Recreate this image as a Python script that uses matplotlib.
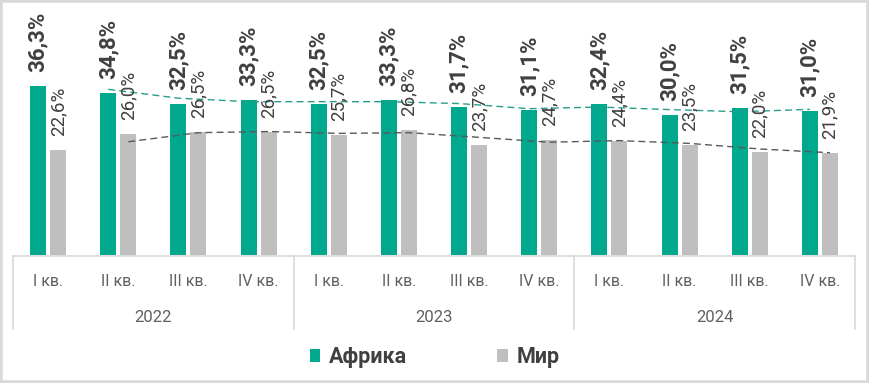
import matplotlib
matplotlib.use("Agg")
import matplotlib.pyplot as plt
import matplotlib.transforms as mtransforms
import pandas as pd

plt.rcParams['font.family'] = ['Roboto', 'DejaVu Sans']

quarters = ['I кв.', 'II кв.', 'III кв.', 'IV кв.'] * 3
years = ['2022', '2023', '2024']
africa = [36.3, 34.8, 32.5, 33.3, 32.5, 33.3, 31.7, 31.1, 32.4, 30.0, 31.5, 31.0]
world = [22.6, 26.0, 26.5, 26.5, 25.7, 26.8, 23.7, 24.7, 24.4, 23.5, 22.0, 21.9]

c_africa = '#00a88e'
c_world = '#bfbfbf'
c_text = '#404040'
c_grid = '#d9d9d9'

W, H = 869, 383
fig = plt.figure(figsize=(W / 100, H / 100), dpi=100)
fig.patch.set_facecolor('white')

# plot area: x 13..855 px, y 10..255 px from top
ax = fig.add_axes([13 / W, (H - 255) / H, 842 / W, 245 / H])
ax.set_xlim(-0.5, 11.5)
ax.set_ylim(0, 245 / 4.66)
ax.axis('off')

n = len(africa)
xs = list(range(n))
off, bw = 0.143, 0.228
xa = [x - off for x in xs]
xw = [x + off for x in xs]
ax.bar(xa, africa, width=bw, color=c_africa, label='Африка', zorder=2)
ax.bar(xw, world, width=bw, color=c_world, label='Мир', zorder=2)

# moving average trend lines (2 periods)
ma_a = pd.Series(africa).rolling(2).mean()
ma_w = pd.Series(world).rolling(2).mean()
ax.plot(xa[1:], ma_a[1:], color='#2a9d8a', lw=1.0, dashes=(5, 3), zorder=3)
ax.plot(xw[1:], ma_w[1:], color='#595959', lw=1.0, dashes=(5, 3), zorder=3)

for x, v in zip(xa, africa):
    ax.annotate(f'{v:.1f}%'.replace('.', ','), xy=(x, v), xytext=(0, 14),
                textcoords='offset pixels', rotation=90, ha='center', va='bottom',
                fontsize=16, fontweight='bold', color=c_text, zorder=4)
for x, v in zip(xw, world):
    ax.annotate(f'{v:.1f}%'.replace('.', ','), xy=(x, v), xytext=(0, 14),
                textcoords='offset pixels', rotation=90, ha='center', va='bottom',
                fontsize=13.5, color=c_text, zorder=4)

# category axis with two levels
tr = mtransforms.blended_transform_factory(ax.transData, fig.transFigure)
fy = lambda px: (H - px) / H
ax.plot([-0.5, 11.5], [fy(256), fy(256)], transform=tr, color=c_grid, lw=1.2, clip_on=False)
for b in [-0.5, 3.5, 7.5, 11.5]:
    ax.plot([b, b], [fy(256), fy(329)], transform=tr, color=c_grid, lw=1.2, clip_on=False)
for x, q in zip(xs, quarters):
    ax.text(x, fy(282), q, transform=tr, ha='center', va='center',
            fontsize=11.5, color='#606060')
for i, y in enumerate(years):
    ax.text(i * 4 + 1.5, fy(317), y, transform=tr, ha='center', va='center',
            fontsize=12, color='#606060')

fig.legend(loc='center', bbox_to_anchor=(0.5, fy(357)), ncol=2, frameon=False,
           prop={'weight': 'bold', 'size': 15.5}, labelcolor=c_text,
           handlelength=0.48, handleheight=0.58, handletextpad=0.4, columnspacing=4.2)

fig.patches.append(plt.Rectangle((0, 0), 1, 1, transform=fig.transFigure, fill=False,
                                 edgecolor=c_grid, lw=4))

fig.savefig('out.png', dpi=100)
